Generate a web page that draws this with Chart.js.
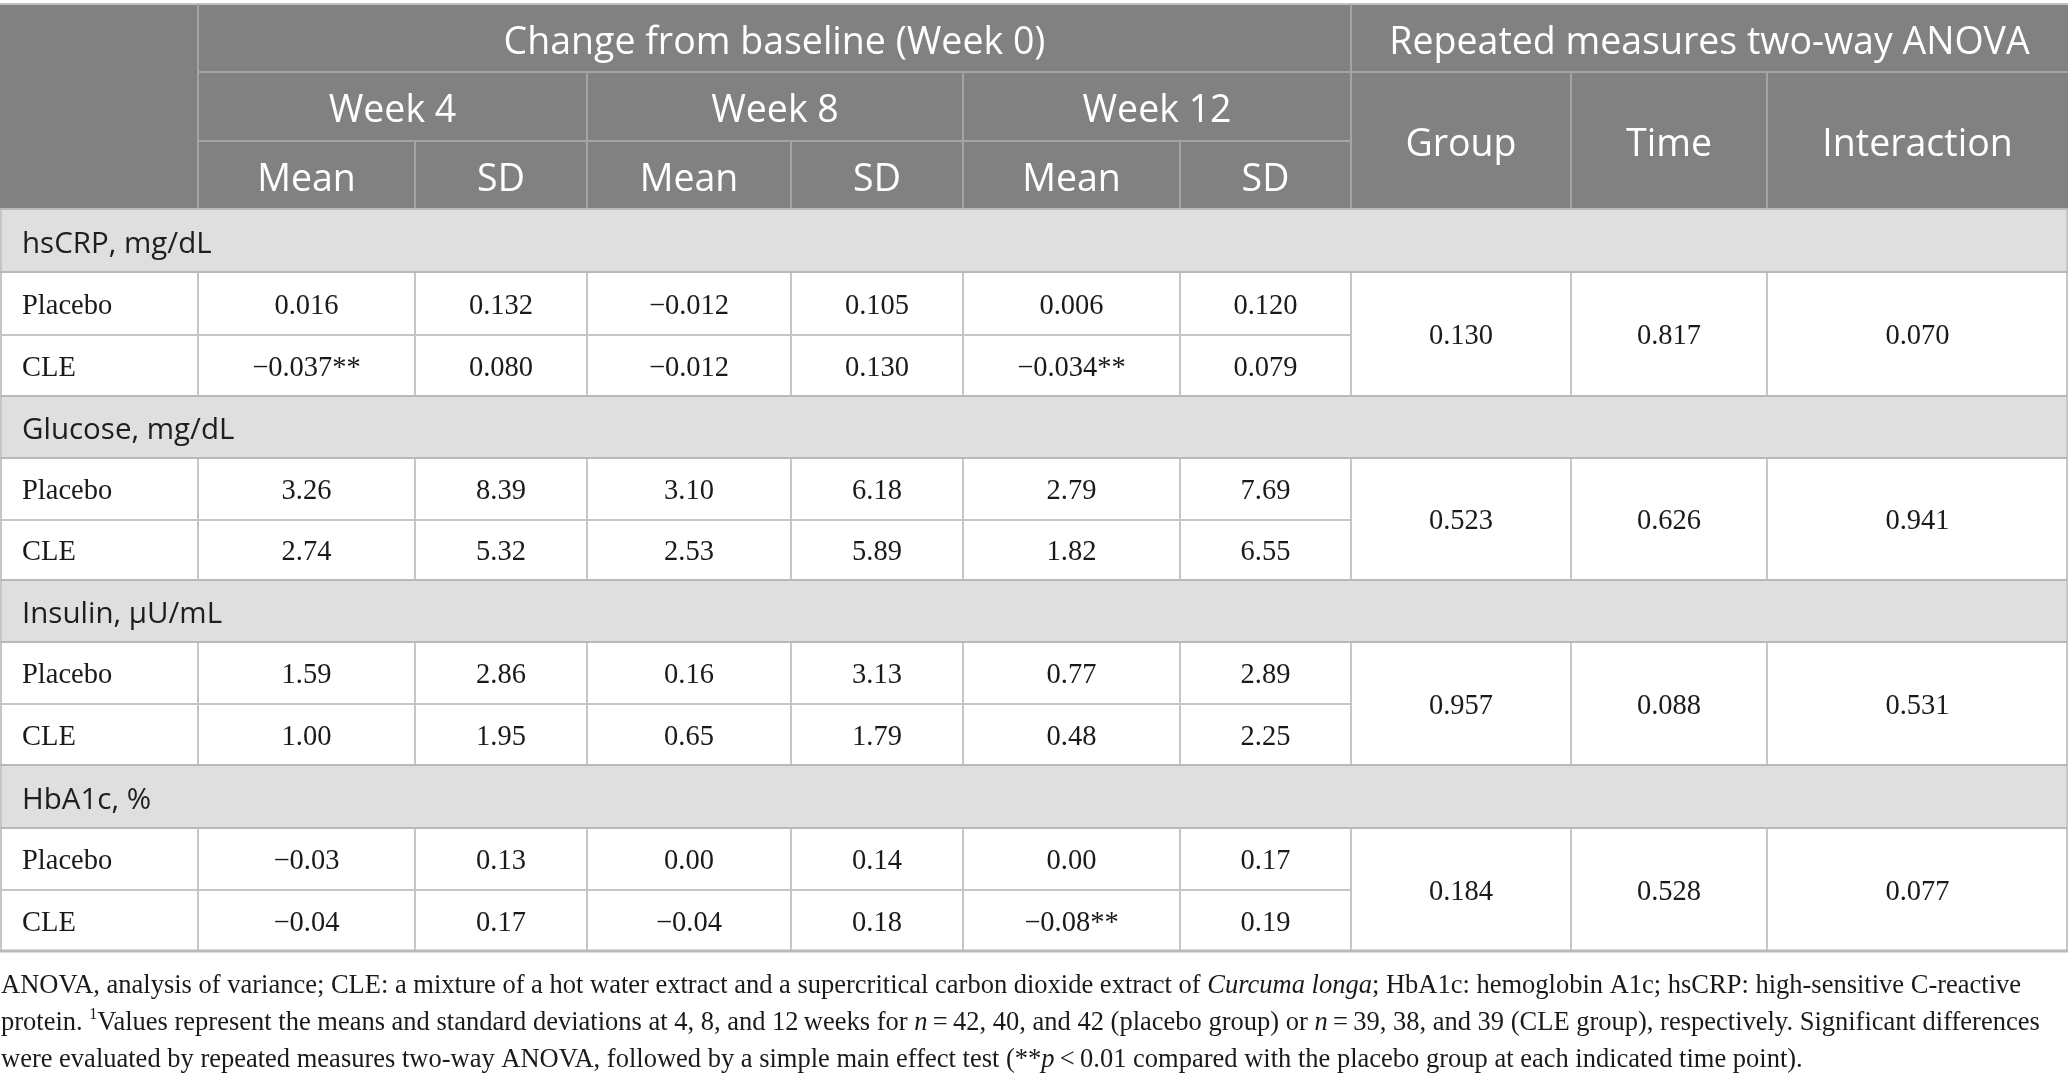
<!DOCTYPE html>
<html>
<head>
<meta charset="utf-8">
<script src="https://cdn.jsdelivr.net/npm/chart.js@4.4.1/dist/chart.umd.min.js"></script>
<style>
html,body{margin:0;padding:0;background:#fff;overflow:hidden;}
#wrap{width:2068px;height:1081px;position:relative;}
</style>
</head>
<body>
<div id="wrap"><canvas id="c" width="2068" height="1081"></canvas></div>
<script>
// ---------------- DATA ----------------
const topHeader = ['Change from baseline (Week 0)', 'Repeated measures two-way ANOVA'];
const weeks = ['Week 4', 'Week 8', 'Week 12'];
const statCols = ['Mean', 'SD'];
const anovaCols = ['Group', 'Time', 'Interaction'];
const sections = ['hsCRP, mg/dL', 'Glucose, mg/dL', 'Insulin, μU/mL', 'HbA1c, %'];
const groups = ['Placebo', 'CLE'];
const decimals = [3, 2, 2, 2];

const placeboMean = [[0.016, -0.012, 0.006], [3.26, 3.10, 2.79], [1.59, 0.16, 0.77], [-0.03, 0.00, 0.00]];
const placeboSD   = [[0.132, 0.105, 0.120], [8.39, 6.18, 7.69], [2.86, 3.13, 2.89], [0.13, 0.14, 0.17]];
const cleMean     = [[-0.037, -0.012, -0.034], [2.74, 2.53, 1.82], [1.00, 0.65, 0.48], [-0.04, -0.04, -0.08]];
const cleSD       = [[0.080, 0.130, 0.079], [5.32, 5.89, 6.55], [1.95, 1.79, 2.25], [0.17, 0.18, 0.19]];
const cleSig      = [['**', '', '**'], ['', '', ''], ['', '', ''], ['', '', '**']];
const anovaP      = [[0.130, 0.817, 0.070], [0.523, 0.626, 0.941], [0.957, 0.088, 0.531], [0.184, 0.528, 0.077]];

const footnoteLines = [
  [['ANOVA, analysis of variance; CLE: a mixture of a hot water extract and a supercritical carbon dioxide extract of ', 'n'], ['Curcuma longa', 'i'], ['; HbA1c: hemoglobin A1c; hsCRP: high-sensitive C-reactive', 'n']],
  [['protein. ', 'n'], ['1', 's'], ['Values represent the means and standard deviations at 4, 8, and 12\u2009weeks for ', 'n'], ['n', 'i'], ['\u2009=\u200942, 40, and 42 (placebo group) or ', 'n'], ['n', 'i'], ['\u2009=\u200939, 38, and 39 (CLE group), respectively. Significant differences', 'n']],
  [['were evaluated by repeated measures two-way ANOVA, followed by a simple main effect test (**', 'n'], ['p', 'i'], ['\u2009<\u20090.01 compared with the placebo group at each indicated time point).', 'n']]
];

// ---------------- LAYOUT (scale units) ----------------
const colEdges = [0, 198, 415, 587, 791, 963, 1180, 1351, 1571, 1767, 2068];
const headRows = [4, 72, 141, 209];
const sectionRows = [[209, 272, 335, 396], [396, 458, 520, 580], [580, 642, 704, 765], [765, 828, 890, 951]];
const footY = [986, 1023, 1060];

const SANS = '"Open Sans", "Noto Sans", sans-serif';
const SERIF = '"Liberation Serif", "DejaVu Serif", serif';

function fmt(v, d) {
  const s = Math.abs(v).toFixed(d);
  return (v < 0 ? '\u2212' : '') + s;
}

const tablePlugin = {
  id: 'tablePlugin',
  afterDraw(chart) {
    const ctx = chart.ctx;
    const X = v => chart.scales.x.getPixelForValue(v);
    const Y = v => chart.scales.y.getPixelForValue(v);
    const L = X(colEdges[0]), R = X(colEdges[colEdges.length - 1]);
    ctx.save();
    ctx.fillStyle = '#ffffff';
    ctx.fillRect(0, 0, chart.width, chart.height);

    function hline(y, x0, x1, col, w) {
      ctx.strokeStyle = col; ctx.lineWidth = w;
      ctx.beginPath(); ctx.moveTo(X(x0), Y(y)); ctx.lineTo(X(x1), Y(y)); ctx.stroke();
    }
    function vline(x, y0, y1, col, w) {
      ctx.strokeStyle = col; ctx.lineWidth = w;
      ctx.beginPath(); ctx.moveTo(X(x), Y(y0)); ctx.lineTo(X(x), Y(y1)); ctx.stroke();
    }
    function text(str, x, y, font, col, align, dy) {
      ctx.font = font; ctx.fillStyle = col; ctx.textAlign = align || 'center'; ctx.textBaseline = 'middle';
      ctx.fillText(str, X(x), Y(y) + (dy || 0));
    }

    // header background
    ctx.fillStyle = '#808180';
    ctx.fillRect(L, Y(headRows[0]), R - L, Y(headRows[3]) - Y(headRows[0]));
    const HL = '#a3a4a3';
    hline(headRows[0], colEdges[0], colEdges[10], '#c2c2c2', 2);
    hline(headRows[1], colEdges[1], colEdges[10], HL, 2);
    hline(headRows[2], colEdges[1], colEdges[7], HL, 2);
    vline(colEdges[1], headRows[0], headRows[3], HL, 2);
    vline(colEdges[7], headRows[0], headRows[3], HL, 2);
    [3, 5, 8, 9].forEach(i => vline(colEdges[i], headRows[1], headRows[3], HL, 2));
    [2, 4, 6].forEach(i => vline(colEdges[i], headRows[2], headRows[3], HL, 2));

    // header text
    const HF = '400 37.5px ' + SANS;
    const HD = 5;
    const yH1 = (headRows[0] + headRows[1]) / 2, yH2 = (headRows[1] + headRows[2]) / 2, yH3 = (headRows[2] + headRows[3]) / 2;
    text(topHeader[0], (colEdges[1] + colEdges[7]) / 2, yH1, HF, '#ffffff', 'center', HD);
    text(topHeader[1], (colEdges[7] + colEdges[10]) / 2, yH1, HF, '#ffffff', 'center', HD);
    weeks.forEach((w, i) => {
      text(w, (colEdges[1 + 2 * i] + colEdges[3 + 2 * i]) / 2, yH2, HF, '#ffffff', 'center', HD);
      statCols.forEach((s, j) => {
        text(s, (colEdges[1 + 2 * i + j] + colEdges[2 + 2 * i + j]) / 2, yH3, HF, '#ffffff', 'center', HD);
      });
    });
    anovaCols.forEach((a, i) => {
      text(a, (colEdges[7 + i] + colEdges[8 + i]) / 2, (headRows[1] + headRows[3]) / 2, HF, '#ffffff', 'center', HD);
    });

    // body
    const GL = '#c6c6c6', BL = '#b9b9b9';
    const BODY = '400 28.5px ' + SERIF;
    const SEC = '400 29.5px ' + SANS;
    const BD = 3, SD_ = 4;
    sections.forEach((sec, s) => {
      const [t, lb, pb, cb] = sectionRows[s];
      ctx.fillStyle = '#e0dfe0';
      ctx.fillRect(L, Y(t), R - L, Y(lb) - Y(t));
      text(sec, 22, (t + lb) / 2, SEC, '#1e1e1e', 'left', SD_);
      // grid
      vline(colEdges[0] + 1, t, cb, GL, 2);
      vline(colEdges[10] - 1, t, cb, GL, 2);
      for (let i = 1; i < 10; i++) vline(colEdges[i], lb, cb, GL, 2);
      hline(pb, colEdges[0], colEdges[7], GL, 2);
      hline(t, colEdges[0], colEdges[10], BL, 2);
      hline(lb, colEdges[0], colEdges[10], BL, 2);
      hline(cb, colEdges[0], colEdges[10], BL, s === sections.length - 1 ? 3 : 2);

      const rows = [
        [groups[0], placeboMean[s], placeboSD[s], ['', '', ''], (lb + pb) / 2],
        [groups[1], cleMean[s], cleSD[s], cleSig[s], (pb + cb) / 2]
      ];
      rows.forEach(([g, mean, sd, sig, yc]) => {
        text(g, 22, yc, BODY, '#1a1a1a', 'left', BD);
        for (let w = 0; w < 3; w++) {
          const cM = (colEdges[1 + 2 * w] + colEdges[2 + 2 * w]) / 2;
          const cS = (colEdges[2 + 2 * w] + colEdges[3 + 2 * w]) / 2;
          text(fmt(mean[w], decimals[s]) + sig[w], cM, yc, BODY, '#1a1a1a', 'center', BD);
          text(fmt(sd[w], decimals[s]), cS, yc, BODY, '#1a1a1a', 'center', BD);
        }
      });
      anovaP[s].forEach((p, i) => {
        text(p.toFixed(3), (colEdges[7 + i] + colEdges[8 + i]) / 2, (lb + cb) / 2, BODY, '#1a1a1a', 'center', BD);
      });
    });

    // footnote
    const FS = 26.5;
    footnoteLines.forEach((line, li) => {
      let x = X(0) + 1;
      const y = Y(footY[li]);
      ctx.textAlign = 'left'; ctx.fillStyle = '#1a1a1a';
      line.forEach(([str, st]) => {
        if (st === 's') {
          ctx.font = '400 ' + (FS * 0.6) + 'px ' + SERIF; ctx.textBaseline = 'middle';
          ctx.fillText(str, x, y - FS * 0.3);
        } else {
          ctx.font = (st === 'i' ? 'italic ' : '') + '400 ' + FS + 'px ' + SERIF; ctx.textBaseline = 'middle';
          ctx.fillText(str, x, y);
        }
        x += ctx.measureText(str).width;
      });
    });
    ctx.restore();
  }
};

function build() {
  new Chart(document.getElementById('c'), {
    type: 'scatter',
    data: { datasets: [{ data: [], showLine: false }] },
    options: {
      responsive: false,
      animation: false,
      devicePixelRatio: 1,
      layout: { padding: 0 },
      plugins: { legend: { display: false }, tooltip: { enabled: false } },
      scales: {
        x: { type: 'linear', min: 0, max: 2068, display: false },
        y: { type: 'linear', min: 0, max: 1081, reverse: true, display: false }
      }
    },
    plugins: [tablePlugin]
  });
}
const fontLoads = [
  '400 35px "Open Sans"', '400 28px "Liberation Serif"', 'italic 400 24px "Liberation Serif"'
].map(f => document.fonts.load(f).catch(() => null));
Promise.all(fontLoads).then(build, build);
</script>
</body>
</html>
